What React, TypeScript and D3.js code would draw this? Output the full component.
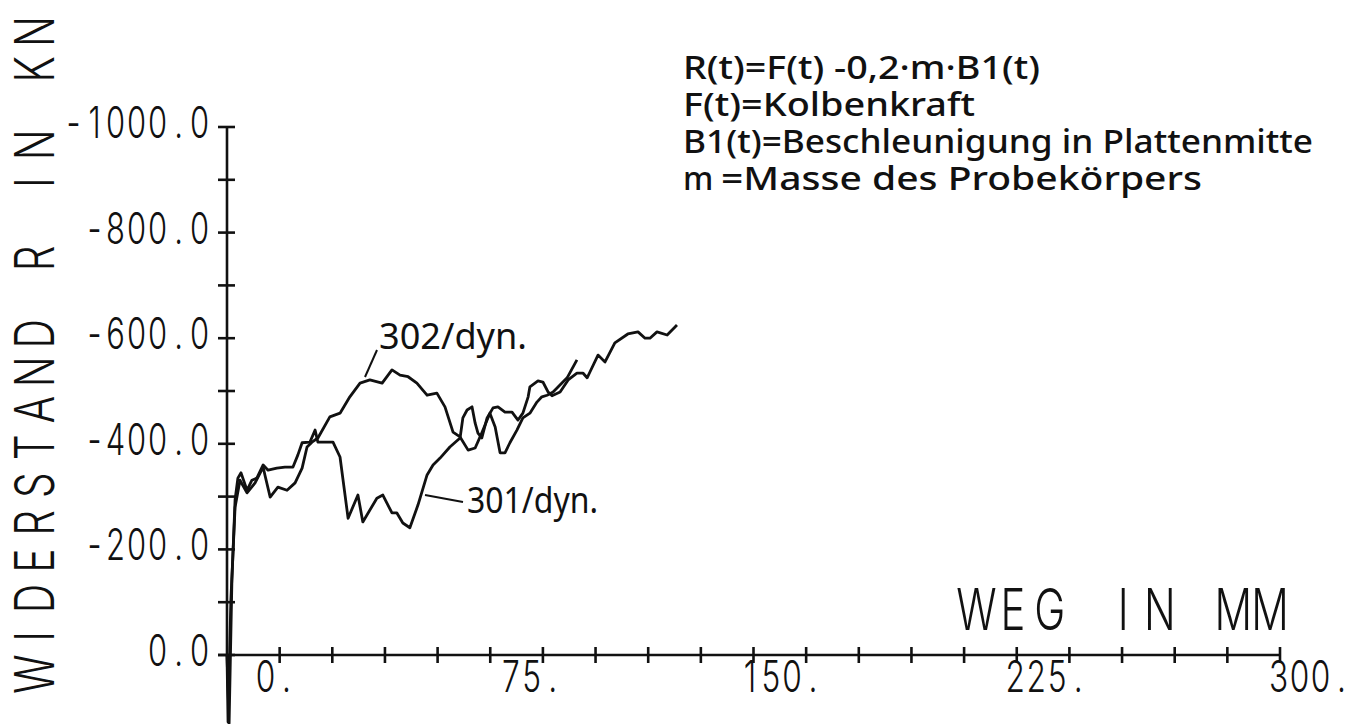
import React, { useEffect } from "react";
import * as d3 from "d3";

// ---- data (Weg in mm, Widerstand R in kN) ----
const series302: [number, number][] = [
  [0, 0], [0.3, 127], [1.1, -104], [2.3, -280], [3.7, -331], [5.7, -307], [8.0, -326],
  [10.3, -356], [10.8, -341], [12.3, -299], [14.5, -318], [17.1, -312], [19.4, -326],
  [21.4, -354], [22.8, -394], [24.2, -403], [25.9, -411], [29.3, -451], [32.2, -458],
  [35.0, -489], [37.9, -515], [40.7, -521], [44.2, -515], [47.0, -540], [49.3, -530],
  [51.6, -527], [54.1, -515], [57.0, -492], [59.8, -496], [62.1, -470], [64.4, -422],
  [66.4, -413], [68.7, -388], [70.7, -392], [72.1, -413], [74.9, -458], [76.4, -432],
  [77.8, -383], [79.2, -383], [80.6, -402], [82.6, -426], [84.3, -449], [86.3, -458],
  [88.3, -479], [89.7, -489], [91.2, -492], [92.9, -498], [96.9, -525], [99.7, -559],
];

const series301: [number, number][] = [
  [0, 0], [0.6, 129], [1.4, -142], [2.3, -294], [3.1, -335], [4.0, -345], [5.7, -312],
  [7.1, -331], [8.5, -335], [10.3, -360], [11.7, -350], [14.2, -354], [16.5, -356],
  [18.8, -356], [20.2, -379], [21.4, -402], [23.6, -403], [25.1, -426], [25.9, -403],
  [28.8, -403], [30.2, -403], [32.2, -375], [34.5, -259], [37.3, -303], [38.7, -252],
  [42.7, -297], [44.4, -303], [47.0, -269], [48.4, -269], [50.1, -250], [52.1, -241],
  [54.4, -284], [57.0, -341], [58.7, -360], [60.7, -373], [63.5, -394], [66.4, -411],
  [67.2, -449], [68.4, -464], [69.8, -470], [70.7, -439], [71.5, -420], [72.6, -411],
  [74.1, -449], [75.8, -468], [77.2, -470], [79.2, -460], [81.2, -460], [82.9, -445],
  [84.3, -458], [85.8, -489], [86.3, -508], [88.6, -519], [90.0, -517], [91.5, -498],
  [92.6, -491], [94.9, -498], [97.2, -521], [99.7, -534], [101.4, -534], [102.6, -525],
  [103.4, -536], [105.7, -568], [107.7, -555], [110.5, -591], [114.2, -608],
  [117.1, -612], [119.1, -600], [120.5, -600], [122.5, -612], [125.4, -606], [128.2, -625],
];

const xTickValues = d3.range(0, 301, 15);
const xLabelValues = [0, 75, 150, 225, 300];
const xLabelTexts = ["0.", "75.", "150.", "225.", "300."];
const xLabelShift = [28, 10, -14, -12, -12];
const yTickValues = d3.range(0, -1001, -100);
const yLabelValues = [0, -200, -400, -600, -800, -1000];
const yLabelTexts = ["0.0", "-200.0", "-400.0", "-600.0", "-800.0", "-1000.0"];

const yTitle = "WIDERSTAND R IN KN";
const xTitle = "WEG IN MM";

const legendLines = [
  "R(t)=F(t) -0,2·m·B1(t)",
  "F(t)=Kolbenkraft",
  "B1(t)=Beschleunigung in Plattenmitte",
];
const legendLast = ["m", "=Masse des Probekörpers"];

const W = 1358;
const H = 724;
const INK = "#111";
const PLOT_FONT = "Inter, 'Liberation Sans', 'DejaVu Sans', sans-serif";
const TEXT_FONT = "'Noto Sans', 'DejaVu Sans', sans-serif";

// plotter-style monospaced text: every character sits in a cell of width `adv`
function MonoText(props: {
  text: string;
  x: number;
  y: number;
  adv: number;
  size: number;
  sx: number;
  weight?: number;
  anchor?: "start" | "end";
  rotate?: number;
}) {
  const { text, x, y, adv, size, sx, weight = 330, anchor = "start", rotate = 0 } = props;
  const n = text.length;
  const start = anchor === "end" ? -n * adv : 0;
  const xs = Array.from(text)
    .map((_, i) => ((start + (i + 0.5) * adv) / sx).toFixed(2))
    .join(" ");
  return (
    <text
      transform={`translate(${x},${y}) rotate(${rotate}) scale(${sx},1)`}
      x={xs}
      y={0}
      textAnchor="middle"
      fontFamily={PLOT_FONT}
      fontWeight={weight}
      fontSize={size}
      fill={INK}
      style={{ whiteSpace: "pre" }}
    >
      {text}
    </text>
  );
}

export default function App() {
  useEffect(() => {
    document.body.style.margin = "0";
    document.body.style.overflow = "hidden";
  }, []);

  const x = d3.scaleLinear().domain([0, 300]).range([227, 1280]);
  const y = d3.scaleLinear().domain([0, -1000]).range([655, 127]);
  const line = d3
    .line<[number, number]>()
    .x((d) => x(d[0]))
    .y((d) => y(d[1]));

  return (
    <svg
      width={W}
      height={H}
      viewBox={`0 0 ${W} ${H}`}
      style={{ position: "absolute", left: 0, top: 0, background: "#fff" }}
    >
      <rect x={0} y={0} width={W} height={H} fill="#fff" />

      {/* axes */}
      <line x1={x(0)} x2={x(0)} y1={y(-1000)} y2={y(0)} stroke={INK} strokeWidth={2.6} />
      <line x1={x(0) - 9} x2={x(300)} y1={y(0)} y2={y(0)} stroke={INK} strokeWidth={2.6} />
      {yTickValues.map((v) => (
        <line key={"yt" + v} x1={x(0) - 9} x2={x(0) + 8} y1={y(v)} y2={y(v)} stroke={INK} strokeWidth={2.6} />
      ))}
      {xTickValues.slice(1).map((v) => (
        <line key={"xt" + v} x1={x(v)} x2={x(v)} y1={y(0) - 8} y2={y(0) + 8} stroke={INK} strokeWidth={2.6} />
      ))}

      {/* y labels */}
      {yLabelValues.map((v, i) => (
        <MonoText key={"yl" + v} text={yLabelTexts[i]} x={210} y={y(v) + 11} adv={21} size={43} sx={0.72} anchor="end" />
      ))}

      {/* x labels */}
      {xLabelValues.map((v, i) => (
        <MonoText key={"xl" + v} text={xLabelTexts[i]} x={x(v) + xLabelShift[i]} y={692} adv={21} size={44} sx={0.72} />
      ))}

      {/* axis titles */}
      <MonoText text={yTitle} x={54} y={693} adv={37.8} size={55} sx={0.74} rotate={-90} />
      <MonoText text={xTitle} x={958} y={630} adv={36.7} size={58} sx={0.72} />

      {/* curves */}
      <path d={line(series302) || ""} fill="none" stroke={INK} strokeWidth={2.8} strokeLinejoin="round" />
      <path d={line(series301) || ""} fill="none" stroke={INK} strokeWidth={2.8} strokeLinejoin="round" />

      {/* curve labels */}
      <line x1={377} y1={350} x2={365} y2={377} stroke={INK} strokeWidth={2} />
      <text x={379} y={349} fontFamily={TEXT_FONT} fontSize={36} textLength={148} lengthAdjust="spacingAndGlyphs" fill={INK}>
        302/dyn.
      </text>
      <line x1={463} y1={502} x2={425} y2={495} stroke={INK} strokeWidth={2} />
      <text x={467} y={513} fontFamily={TEXT_FONT} fontSize={36} textLength={131} lengthAdjust="spacingAndGlyphs" fill={INK}>
        301/dyn.
      </text>

      {/* legend */}
      {legendLines.map((t, i) => (
        <text
          key={"lg" + i}
          x={683}
          y={79 + i * 37}
          fontFamily={TEXT_FONT}
          fontWeight={500}
          fontSize={32}
          textLength={[357, 292, 630][i]}
          lengthAdjust="spacingAndGlyphs"
          fill={INK}
        >
          {t}
        </text>
      ))}
      <text x={683} y={190} fontFamily={TEXT_FONT} fontWeight={500} fontSize={32} fill={INK}>
        {legendLast[0]}
      </text>
      <text x={721} y={190} fontFamily={TEXT_FONT} fontWeight={500} fontSize={32} textLength={481} lengthAdjust="spacingAndGlyphs" fill={INK}>
        {legendLast[1]}
      </text>
    </svg>
  );
}
